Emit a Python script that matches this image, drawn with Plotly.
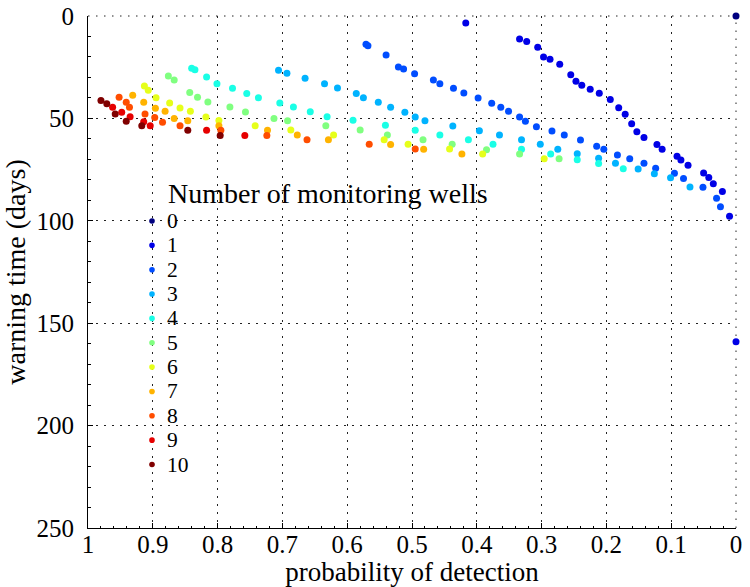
import plotly.graph_objects as go

# Probability of detection vs. warning time (days), one series per number of wells
wells = [0, 1, 2, 3, 4, 5, 6, 7, 8, 9, 10]

prob_w0 = [0.0]
days_w0 = [0.0]

prob_w1 = [0.417, 0.334, 0.323, 0.306, 0.297, 0.287, 0.272, 0.255, 0.247, 0.238,
           0.225, 0.211, 0.194, 0.181, 0.171, 0.161, 0.153, 0.142, 0.122, 0.114,
           0.091, 0.085, 0.074, 0.050, 0.042, 0.035, 0.021, 0.010, 0.0]
days_w1 = [3.4, 11.2, 12.5, 15.3, 20.0, 21.1, 23.6, 28.7, 31.9, 33.8,
           35.8, 37.7, 40.8, 44.8, 48.0, 52.6, 56.5, 59.3, 62.7, 65.1,
           68.5, 70.3, 72.9, 76.6, 78.8, 81.9, 85.7, 97.8, 159.0]

prob_w2 = [0.571, 0.568, 0.540, 0.521, 0.513, 0.496, 0.467, 0.457, 0.436, 0.420,
           0.398, 0.377, 0.363, 0.351, 0.334, 0.325, 0.308, 0.284, 0.265, 0.240,
           0.215, 0.204, 0.183, 0.164, 0.142, 0.124, 0.095, 0.081, 0.051, 0.030,
           0.024]
days_w2 = [13.8, 14.5, 19.0, 24.9, 25.9, 28.2, 31.3, 33.1, 35.3, 37.6,
           40.0, 42.6, 44.6, 46.5, 49.3, 51.4, 54.1, 56.2, 58.1, 60.5,
           63.6, 65.1, 67.9, 69.7, 71.9, 74.4, 76.8, 79.4, 83.6, 89.0,
           93.1]

prob_w3 = [0.706, 0.693, 0.665, 0.635, 0.615, 0.586, 0.575, 0.552, 0.533, 0.511,
           0.495, 0.480, 0.437, 0.396, 0.365, 0.331, 0.302, 0.275, 0.245, 0.212,
           0.186, 0.151, 0.126, 0.101, 0.071]
days_w3 = [26.5, 28.0, 30.4, 33.1, 35.2, 37.9, 39.9, 42.1, 44.6, 47.0,
           49.3, 51.1, 53.7, 56.0, 58.1, 60.4, 62.6, 65.1, 67.2, 69.5,
           71.9, 74.7, 77.0, 79.0, 83.5]

prob_w4 = [0.840, 0.835, 0.817, 0.801, 0.777, 0.755, 0.737, 0.704, 0.683, 0.657,
           0.631, 0.591, 0.541, 0.495, 0.457, 0.413, 0.375, 0.331, 0.286, 0.245,
           0.212, 0.174]
days_w4 = [25.5, 26.2, 29.8, 33.1, 35.3, 37.9, 39.9, 42.5, 44.4, 46.7,
           49.2, 50.9, 53.4, 55.8, 58.1, 60.4, 62.6, 65.1, 67.4, 70.2,
           72.0, 74.6]

prob_w5 = [0.876, 0.867, 0.843, 0.831, 0.815, 0.781, 0.757, 0.713, 0.692, 0.633,
           0.580, 0.538, 0.483, 0.438, 0.385, 0.334, 0.273]
days_w5 = [29.3, 31.3, 37.3, 39.7, 42.0, 44.4, 46.9, 50.0, 51.1, 53.6,
           55.7, 58.1, 60.4, 62.6, 65.3, 67.4, 69.7]

prob_w6 = [0.913, 0.907, 0.895, 0.874, 0.858, 0.842, 0.818, 0.798, 0.742, 0.687,
           0.621, 0.543, 0.506, 0.442, 0.391, 0.296]
days_w6 = [34.2, 36.3, 39.9, 42.5, 44.9, 46.5, 49.3, 51.0, 53.6, 55.7,
           58.1, 60.4, 62.6, 64.9, 67.4, 69.7]

prob_w7 = [0.931, 0.914, 0.896, 0.881, 0.867, 0.846, 0.798, 0.723, 0.677, 0.629,
           0.533, 0.482, 0.423]
days_w7 = [38.7, 42.1, 45.1, 46.5, 50.0, 51.1, 53.6, 55.8, 58.1, 60.4,
           62.8, 65.1, 67.4]

prob_w8 = [0.952, 0.941, 0.936, 0.912, 0.897, 0.885, 0.858, 0.795, 0.724, 0.662,
           0.566, 0.495]
days_w8 = [39.7, 42.1, 44.6, 47.9, 49.5, 51.9, 53.6, 55.8, 58.3, 60.4,
           62.6, 64.9]

prob_w9 = [0.962, 0.948, 0.935, 0.914, 0.904, 0.817, 0.758]
days_w9 = [44.6, 47.0, 49.2, 51.6, 53.6, 55.8, 58.3]

prob_w10 = [0.980, 0.971, 0.958, 0.941, 0.917, 0.846, 0.796]
days_w10 = [41.2, 42.8, 47.9, 51.4, 53.6, 55.8, 58.3]

probs = [prob_w0, prob_w1, prob_w2, prob_w3, prob_w4, prob_w5,
         prob_w6, prob_w7, prob_w8, prob_w9, prob_w10]
days = [days_w0, days_w1, days_w2, days_w3, days_w4, days_w5,
        days_w6, days_w7, days_w8, days_w9, days_w10]

# jet colormap sampled at 11 evenly spaced levels
colors = ["#000080", "#0000e6", "#004dff", "#00b3ff", "#1affe6", "#80ff80",
          "#e6ff1a", "#ffb300", "#ff4d00", "#e60000", "#800000"]

x_ticks = [1, 0.9, 0.8, 0.7, 0.6, 0.5, 0.4, 0.3, 0.2, 0.1, 0]
x_tick_labels = ["1", "0.9", "0.8", "0.7", "0.6", "0.5", "0.4", "0.3", "0.2", "0.1", "0"]
y_ticks = [0, 50, 100, 150, 200, 250]
y_tick_labels = ["0", "50", "100", "150", "200", "250"]

legend_title = "Number of monitoring wells"

FONT = "Liberation Serif"
W, H = 750, 587
ML, MR, MT, MB = 88, 14, 16, 59
PW, PH = W - ML - MR, H - MT - MB


def px_to_paper(px, py):
    return (px - ML) / PW, (H - MB - py) / PH


fig = go.Figure()
for n, xs, ys, c in zip(wells, probs, days, colors):
    fig.add_trace(go.Scatter(
        x=xs, y=ys, mode="markers", name=str(n), showlegend=False,
        cliponaxis=False,
        marker=dict(size=7, color=c, line=dict(width=0)),
    ))

grid_dash = "1.5px,6.5px"
annotations = []
shapes = [
    # dotted frame along the top and right edges
    dict(type="line", xref="paper", yref="paper", x0=0, x1=1, y0=1, y1=1,
         line=dict(color="#222", width=1, dash=grid_dash), layer="below"),
    dict(type="line", xref="paper", yref="paper", x0=1, x1=1, y0=0, y1=1,
         line=dict(color="#222", width=1, dash=grid_dash), layer="below"),
]

# legend block: title, then one marker + label per well count
ROW = 24.35
tx, ty = px_to_paper(166, 193)
annotations.append(dict(text=legend_title, xref="paper", yref="paper", x=tx, y=ty,
                        xanchor="left", yanchor="middle", showarrow=False,
                        font=dict(family=FONT, size=28, color="black")))
for i, (n, c) in enumerate(zip(wells, colors)):
    cy = 221 + i * ROW
    mx, my = px_to_paper(152, cy)
    lx, ly = px_to_paper(165, cy)
    shapes.append(dict(type="circle", xref="paper", yref="paper",
                       xsizemode="pixel", ysizemode="pixel",
                       xanchor=mx, yanchor=my, x0=-2.8, x1=2.8, y0=-2.8, y1=2.8,
                       fillcolor=c, line=dict(width=0)))
    annotations.append(dict(text=str(n), xref="paper", yref="paper", x=lx, y=ly,
                            xanchor="left", yanchor="middle", showarrow=False,
                            font=dict(family=FONT, size=21.5, color="black")))

axis_common = dict(
    showline=True, linecolor="black", linewidth=1, mirror=False,
    ticks="inside", ticklen=5, tickcolor="black", tickwidth=1,
    showgrid=True, gridcolor="#222", gridwidth=1, griddash=grid_dash,
    zeroline=False, automargin=False,
    tickfont=dict(family=FONT, size=25, color="black"),
)

fig.update_layout(
    width=W, height=H,
    margin=dict(l=ML, r=MR, t=MT, b=MB, autoexpand=False),
    paper_bgcolor="white", plot_bgcolor="white",
    font=dict(family=FONT, color="black"),
    shapes=shapes, annotations=annotations,
    xaxis=dict(
        range=[1, 0], autorange=False,
        tickmode="array", tickvals=x_ticks, ticktext=x_tick_labels,
        ticklabelstandoff=-6,
        minor=dict(dtick=0.02, ticks="inside", ticklen=2.5, tickcolor="black", showgrid=False),
        title=dict(text="probability of detection", standoff=2,
                   font=dict(family=FONT, size=27, color="black")),
        **axis_common,
    ),
    yaxis=dict(
        range=[250, 0], autorange=False,
        tickmode="array", tickvals=y_ticks, ticktext=y_tick_labels,
        ticklabelstandoff=8,
        minor=dict(dtick=10, ticks="inside", ticklen=2.5, tickcolor="black", showgrid=False),
        title=dict(text="warning time (days)", standoff=6,
                   font=dict(family=FONT, size=28, color="black")),
        **axis_common,
    ),
)

fig.write_html("out.html")
